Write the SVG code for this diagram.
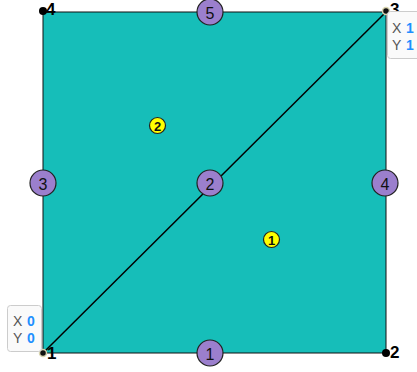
<svg xmlns="http://www.w3.org/2000/svg" width="417" height="372" viewBox="0 0 417 372">
<style>
.edge{fill:#9b7fcd;stroke:#222;stroke-width:1.2}
.face{fill:#ffff00;stroke:#222;stroke-width:1.2}
.lbl{font-family:"Liberation Sans",Arial,sans-serif;font-size:16px;fill:#111;text-anchor:middle;dominant-baseline:central}
.flbl{font-family:"Liberation Sans",Arial,sans-serif;font-size:13px;font-weight:bold;fill:#111;text-anchor:middle;dominant-baseline:central}
.vlbl{font-family:"Liberation Sans",Arial,sans-serif;font-size:17px;font-weight:bold;fill:#000}
.vdot{fill:#000}
.vsel{fill:#111;stroke:#d8d4b0;stroke-width:1.5}
.tip{fill:#fafafa;stroke:#ccc;stroke-width:1}
.tk{font-family:"Liberation Sans",Arial,sans-serif;font-size:14px;fill:#555}
.tv{font-family:"Liberation Sans",Arial,sans-serif;font-size:14px;font-weight:bold;fill:#1e90ff}
</style>
<rect x="0" y="0" width="417" height="372" fill="#fff"/>
<g id="square">
<rect x="43" y="12" width="343" height="341" fill="#16beb9" stroke="#111" stroke-width="1"/>
</g>
<g id="connectors">
<line x1="43" y1="353" x2="386" y2="12" stroke="#000" stroke-width="1.5"/>
</g>
<g id="face1"><circle class="face" cx="271.5" cy="239.5" r="8"/><text class="flbl" x="271.5" y="240">1</text></g>
<g id="face2"><circle class="face" cx="157.5" cy="125.5" r="8"/><text class="flbl" x="157.5" y="126">2</text></g>
<g id="edge1"><circle class="edge" cx="210" cy="353" r="13"/><text class="lbl" x="210" y="354">1</text></g>
<g id="edge2"><circle class="edge" cx="210" cy="183" r="13"/><text class="lbl" x="210" y="184">2</text></g>
<g id="edge3"><circle class="edge" cx="43" cy="183" r="13"/><text class="lbl" x="43" y="184">3</text></g>
<g id="edge4"><circle class="edge" cx="385" cy="183" r="13"/><text class="lbl" x="385" y="184">4</text></g>
<g id="edge5"><circle class="edge" cx="210" cy="12" r="13"/><text class="lbl" x="210" y="13">5</text></g>
<g id="v1"><circle class="vsel" cx="43" cy="353" r="3.5"/><text class="vlbl" x="47" y="359">1</text></g>
<g id="v2"><circle class="vdot" cx="386" cy="353" r="4"/><text class="vlbl" x="390" y="358">2</text></g>
<g id="v3"><circle class="vsel" cx="386" cy="11" r="3.5"/><text class="vlbl" x="390" y="15">3</text></g>
<g id="v4"><circle class="vdot" cx="43" cy="11" r="4"/><text class="vlbl" x="46" y="15">4</text></g>
<g id="tip1">
<rect class="tip" x="7.5" y="305.5" width="34" height="46" rx="3"/>
<text class="tk" x="13" y="326">X</text><text class="tv" x="27" y="326">0</text>
<text class="tk" x="13" y="343">Y</text><text class="tv" x="27" y="343">0</text>
</g>
<g id="tip2">
<rect class="tip" x="387.5" y="11.5" width="34" height="47" rx="3"/>
<text class="tk" x="392" y="33">X</text><text class="tv" x="406" y="33">1</text>
<text class="tk" x="392" y="50">Y</text><text class="tv" x="406" y="50">1</text>
</g>
</svg>
